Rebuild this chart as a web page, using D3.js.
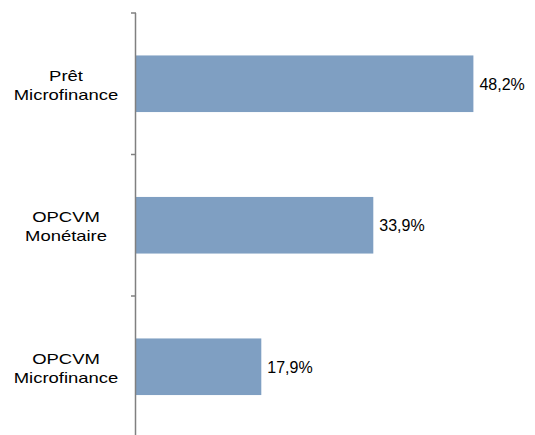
<!DOCTYPE html>
<html>
<head>
<meta charset="utf-8">
<script src="https://cdn.jsdelivr.net/npm/d3@7"></script>
<style>
  body { margin: 0; background: #fff; }
  text { font-family: "Liberation Sans", Arial, sans-serif; fill: #000; }
</style>
</head>
<body>
<svg id="main" width="535" height="435"></svg>
<script>
// data
var categories = ["Prêt\nMicrofinance", "OPCVM\nMonétaire", "OPCVM\nMicrofinance"];
var values = [48.2, 33.9, 17.9];
var valueLabels = ["48,2%", "33,9%", "17,9%"];

var svg = d3.select("#main");

var x = d3.scaleLinear().domain([0, 50]).range([136, 486]);
var y = d3.scaleBand().domain(categories).range([13, 437.5])
    .paddingInner(0.6).paddingOuter(0.3);

var gap = (y.step() - y.bandwidth()) / 2;

// bars
svg.selectAll("rect.bar").data(categories).enter().append("rect")
    .attr("class", "bar")
    .attr("x", x(0))
    .attr("y", function(d) { return y(d); })
    .attr("width", function(d, i) { return x(values[i]) - x(0); })
    .attr("height", y.bandwidth())
    .attr("fill", "#7f9fc2");

// axis line + ticks at band boundaries
svg.append("line")
    .attr("x1", x(0) - 0.5).attr("x2", x(0) - 0.5)
    .attr("y1", y.range()[0]).attr("y2", y.range()[1])
    .attr("stroke", "#808080").attr("stroke-width", 1.5);

var tickYs = categories.map(function(d) { return y(d) - gap; });
tickYs.push(y.range()[1]);
svg.selectAll("line.tick").data(tickYs).enter().append("line")
    .attr("class", "tick")
    .attr("x1", x(0) - 5).attr("x2", x(0))
    .attr("y1", function(d) { return d; }).attr("y2", function(d) { return d; })
    .attr("stroke", "#808080").attr("stroke-width", 1.5);

// category labels (two lines, centred)
categories.forEach(function(c) {
    var cy = y(c) + y.bandwidth() / 2;
    var lines = c.split("\n");
    var t = svg.append("text")
        .attr("text-anchor", "middle")
        .attr("font-size", "15px")
        .attr("transform", "translate(66," + (cy - 3) + ") scale(1.23,1)");
    lines.forEach(function(l, k) {
        t.append("tspan").attr("x", 0).attr("y", k * 19).text(l);
    });
});

// value labels
svg.selectAll("text.val").data(categories).enter().append("text")
    .attr("class", "val")
    .attr("x", function(d, i) { return x(values[i]) + 6; })
    .attr("y", function(d) { return y(d) + y.bandwidth() / 2 + 6; })
    .attr("font-size", "16px")
    .text(function(d, i) { return valueLabels[i]; });
</script>
</body>
</html>
